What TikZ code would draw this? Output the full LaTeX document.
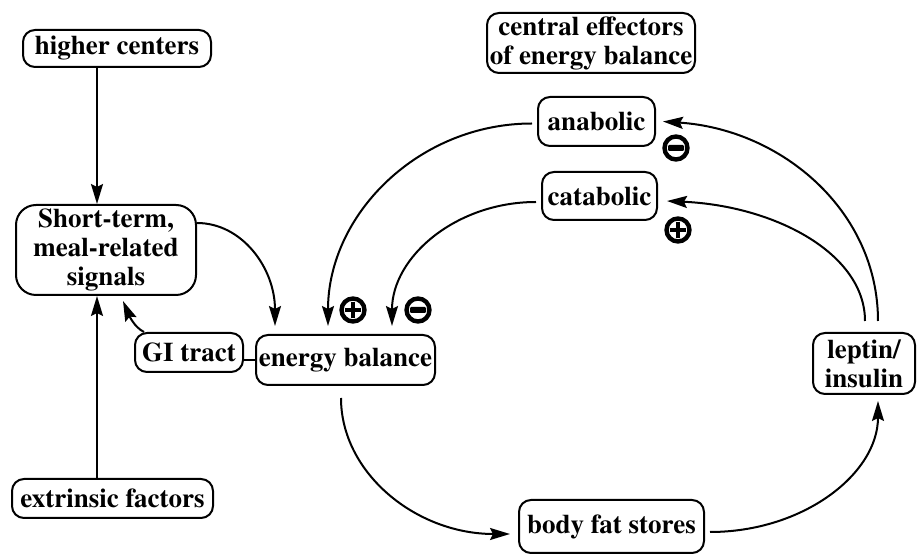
\documentclass[tikz,border=0pt]{standalone}
\usepackage{fontspec}
\setmainfont{texgyretermes}[Extension=.otf, UprightFont=*-regular, BoldFont=*-bold]
\usetikzlibrary{arrows.meta}
\usetikzlibrary{positioning}

\begin{document}
\begin{tikzpicture}[x=0.5pt, y=-0.5pt, line width=1pt, >={Stealth[length=10pt,width=6pt,inset=1.5pt]},
    box/.style={draw, rounded corners=6pt, align=center, inner sep=1pt,
      font=\fontsize{13.5}{14.5}\selectfont\rmfamily\bfseries},
    sign/.style={circle, draw, line width=2.2pt, minimum size=11.5pt, inner sep=0pt},
    plussign/.style={sign, path picture={
      \draw[line width=1.7pt] ([xshift=-4pt]path picture bounding box.center) -- ([xshift=4pt]path picture bounding box.center)
        ([yshift=-4pt]path picture bounding box.center) -- ([yshift=4pt]path picture bounding box.center);}},
    minussign/.style={sign, path picture={
      \fill[rounded corners=0.6pt] ([xshift=-4pt,yshift=-1.5pt]path picture bounding box.center) rectangle ([xshift=4pt,yshift=1.5pt]path picture bounding box.center);}}]
    \useasboundingbox (0,0) rectangle (917,555);

    \node[box, minimum width=94pt, minimum height=18.5pt] (hc) at (117,48.5) {higher centers};
    \node[box, minimum width=104pt, minimum height=30pt] (ce) at (591,43) {central effectors\\of energy balance};
    \node[box, minimum width=58.5pt, minimum height=24.5pt] (ana) at (596.5,121.5) {anabolic};
    \node[box, minimum width=57.5pt, minimum height=24pt] (cat) at (599.5,196) {catabolic};
    \node[box, minimum width=90pt, minimum height=45pt, rounded corners=10pt] (st) at (106,250) {Short-term,\\meal-related\\signals};
    \node[box, minimum width=54pt, minimum height=19.5pt] (gi) at (189,352.5) {GI tract};
    \node[box, minimum width=89.5pt, minimum height=25pt] (eb) at (345.5,360) {energy balance};
    \node[box, minimum width=51pt, minimum height=30.5pt] (lep) at (864,363.5) {leptin/\\insulin};
    \node[box, minimum width=100.5pt, minimum height=19.5pt] (ef) at (112.5,498.5) {extrinsic factors};
    \node[box, minimum width=92.5pt, minimum height=26.5pt] (bf) at (611.5,526.5) {body fat stores};

    % signs
    \node[plussign] (pEb) at (353,310) {};
    \node[minussign] (mEb) at (418,310) {};
    \node[minussign] (mAna) at (676,148) {};
    \node[plussign] (pCat) at (678,230) {};

    % left column
    \coordinate (vline) at (97,0);
    \draw[->] (hc.south -| vline) -- (st.north -| vline);
    \draw[->] (ef.north -| vline) -- (st.south -| vline);
    \draw[->] ([xshift=5pt]gi.north west) .. controls +(-10,-5) and +(6,14) .. ([xshift=8.5pt,yshift=-2.5pt]st.south);
    \draw (gi.east |- eb.west) -- (eb.west);
    \draw[->] ([yshift=13.5pt]st.east) .. controls +(45,0) and +(0,-58) .. ([xshift=10pt,yshift=4pt]eb.north west);

    % effectors
    \draw[->] ([xshift=-2.5pt,yshift=-1pt]ana.west) .. controls +(-113,0) and +(0,-112) .. ([xshift=-8.75pt,yshift=4pt]eb.north);
    \draw[->] ([xshift=-2.5pt,yshift=-3pt]cat.west) .. controls +(-80,0) and +(0,-69) .. ([xshift=23.25pt,yshift=4pt]eb.north);
    \draw[->] ([xshift=7pt,yshift=5.5pt]lep.north) .. controls +(0,-110) and +(119,8) .. ([xshift=3.5pt]ana.east);
    \draw[->] ([xshift=0.5pt,yshift=5.5pt]lep.north) .. controls +(0,-67) and +(109,5) .. ([xshift=4.5pt,yshift=-2.5pt]cat.east);

    % fat loop
    \draw[->] ([xshift=-2.25pt,yshift=-6pt]eb.south) .. controls +(0,75) and +(-94,0) .. ([xshift=-4pt,yshift=-3.75pt]bf.west);
    \draw[->] ([xshift=2.5pt,yshift=-2.75pt]bf.east) .. controls +(93,0) and +(0,73) .. ([xshift=7pt,yshift=-3pt]lep.south);
\end{tikzpicture}
\end{document}
